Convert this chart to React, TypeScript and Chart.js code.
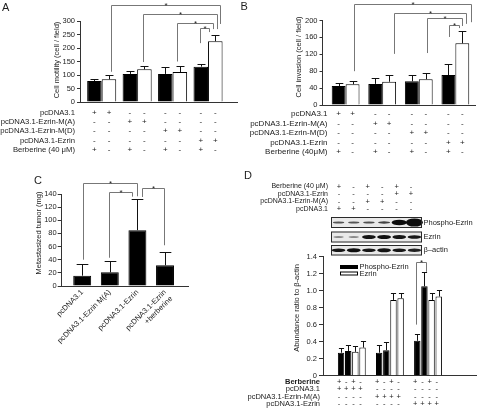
import React, { useEffect, useRef } from 'react';
import { Chart, registerables } from 'chart.js';

Chart.register(...registerables);

const FONT = '"Liberation Sans", Arial, Helvetica, sans-serif';
const INK = '#1c1c1c';
const AXIS = '#333333';
const BRACKET = '#777777';

// ---------------- Panel A : cell motility ----------------
const A_GROUPS = [0, 1, 2, 3];
const A_WITH_BERB = [78, 104, 104, 131];
const A_WITH_BERB_ERR = [8, 10, 24, 9];
const A_NO_BERB = [84, 121, 111, 225];
const A_NO_BERB_ERR = [16, 12, 22, 25];
const A_ROW_LABELS = ['pcDNA3.1', 'pcDNA3.1-Ezrin-M(A)', 'pcDNA3.1-Ezrin-M(D)', 'pcDNA3.1-Ezrin', 'Berberine (40 μM)'];
const A_ROW_SIGNS = ['++------', '--++----', '----++--', '------++', '+-+-+-+-'];
const A_BRACKETS = [
  { a: [0, 1], b: [3, 1], top: 359, aEnd: 112, bEnd: 289 },
  { a: [1, 1], b: [3, 1], top: 326, aEnd: 148, bEnd: 270 },
  { a: [2, 1], b: [3, 1], top: 293, aEnd: 150, bEnd: 270 },
  { a: [3, 0], b: [3, 1], top: 274, aEnd: 218, bEnd: 259 },
];

// ---------------- Panel B : cell invasion ----------------
const B_GROUPS = [0, 1, 2, 3];
const B_WITH_BERB = [45, 50, 56, 71];
const B_WITH_BERB_ERR = [6, 15, 14, 26];
const B_NO_BERB = [49, 55, 61, 146];
const B_NO_BERB_ERR = [7, 16, 14, 28];
const B_ROW_LABELS = ['pcDNA3.1', 'pcDNA3.1-Ezrin-M(A)', 'pcDNA3.1-Ezrin-M(D)', 'pcDNA3.1-Ezrin', 'Berberine (40μM)'];
const B_ROW_SIGNS = ['++------', '--++----', '----++--', '------++', '+-+-+-+-'];
const B_BRACKETS = [
  { a: [0, 1], b: [3, 1], top: 239, aEnd: 80, bEnd: 196 },
  { a: [1, 1], b: [3, 1], top: 218, aEnd: 121, bEnd: 192 },
  { a: [2, 1], b: [3, 1], top: 206, aEnd: 123, bEnd: 187 },
  { a: [3, 0], b: [3, 1], top: 189, aEnd: 161, bEnd: 182 },
];

// ---------------- Panel C : metastasized tumor ----------------
const C_GROUPS = [0, 1, 2, 3];
const C_LABELS: (string | string[])[] = ['pcDNA3.1', 'pcDNA3.1-Ezrin M(A)', 'pcDNA3.1-Ezrin', ['pcDNA3.1-Ezrin', '+berberine']];
const C_VALUES = [15.7, 20.8, 85, 31.5];
const C_ERR = [18.5, 17.8, 47, 21];
const C_BRACKETS = [
  { a: [0, 0], b: [2, 0], top: 157, aEnd: 40, bEnd: 136.5 },
  { a: [1, 0], b: [2, 0], top: 143.5, aEnd: 43, bEnd: 136 },
  { a: [2, 0], b: [3, 0], top: 148.5, aEnd: 135.5, bEnd: 62 },
];

// ---------------- Panel D : western blot quantification ----------------
const D_GROUPS = [0, 1, 2];
const D_PHOSPHO_BERB = [0.27, 0.27, 0.41];
const D_PHOSPHO_BERB_ERR = [0.06, 0.09, 0.08];
const D_PHOSPHO_NO = [0.29, 0.3, 1.05];
const D_PHOSPHO_NO_ERR = [0.07, 0.09, 0.17];
const D_EZRIN_BERB = [0.28, 0.89, 0.89];
const D_EZRIN_BERB_ERR = [0.07, 0.08, 0.08];
const D_EZRIN_NO = [0.33, 0.91, 0.93];
const D_EZRIN_NO_ERR = [0.08, 0.06, 0.08];
const D_LEGEND = ['Phospho-Ezrin', 'Ezrin'];
const D_ROW_LABELS = ['Berberine', 'pcDNA3.1', 'pcDNA3.1-Ezrin-M(A)', 'pcDNA3.1-Ezrin'];
const D_ROW_SIGNS = ['+-+-+-+-+-+-', '++++--------', '----++++----', '--------++++'];
const D_BRACKETS = [{ a: [2, 0], b: [2, 1], top: 1.33, aEnd: 0.6, bEnd: 1.22 }];
const D_TOP_LABELS = ['Berberine (40 μM)', 'pcDNA3.1-Ezrin', 'pcDNA3.1-Ezrin-M(A)', 'pcDNA3.1'];
const D_TOP_SIGNS = ['+-+-+-', '----++', '--++--', '++----'];
const BLOT_NAMES = ['Phospho-Ezrin', 'Ezrin', 'β–actin'];
const BLOT_PHOSPHO = [0.33, 0.32, 0.34, 0.4, 0.8, 1.0];
const BLOT_EZRIN = [0.22, 0.22, 0.62, 0.64, 0.62, 0.6];
const BLOT_ACTIN = [0.6, 0.64, 0.6, 0.62, 0.6, 0.56];

type Bracket = { a: number[]; b: number[]; top: number; aEnd: number; bEnd: number };
type Table = {
  labels: string[]; signs: string[]; ys: number[]; right: number;
  font: number; signFont: number; signDx: number; bold?: number[];
};
type Deco = {
  letter: string; letterX: number; letterY: number;
  yTitle: string; yTitleX: number; yTitleY: number;
  errors: number[][]; capRatio: number;
  brackets: Bracket[]; bracketDx: number[][];
  table?: Table;
  extra?: (ctx: CanvasRenderingContext2D, chart: any) => void;
};

function decoPlugin(cfg: Deco) {
  return {
    id: 'panelDeco',
    afterDraw(chart: any) {
      const ctx: CanvasRenderingContext2D = chart.ctx;
      const ys = chart.scales.y;
      const nDs = chart.data.datasets.length;
      ctx.save();

      // error bars
      ctx.strokeStyle = '#111';
      ctx.lineWidth = 1;
      cfg.errors.forEach((errs, d) => {
        const meta = chart.getDatasetMeta(d);
        const vals = chart.data.datasets[d].data;
        meta.data.forEach((bar: any, i: number) => {
          const v = vals[i].y;
          const top = Math.round(ys.getPixelForValue(v + errs[i])) + 0.5;
          const x = Math.round(bar.x) + 0.5;
          const half = (bar.width * cfg.capRatio) / 2;
          ctx.beginPath();
          ctx.moveTo(x, bar.y);
          ctx.lineTo(x, top);
          ctx.moveTo(x - half, top);
          ctx.lineTo(x + half, top);
          ctx.stroke();
        });
      });

      // significance brackets
      cfg.brackets.forEach((br, k) => {
        const [dxa, dxb] = cfg.bracketDx[k];
        const ba: any = chart.getDatasetMeta(br.a[1]).data[br.a[0]];
        const bb: any = chart.getDatasetMeta(br.b[1]).data[br.b[0]];
        const xa = Math.round(ba.x + dxa) + 0.5;
        const xb = Math.round(bb.x + dxb) + 0.5;
        const yt = Math.round(ys.getPixelForValue(br.top)) + 0.5;
        ctx.strokeStyle = BRACKET;
        ctx.beginPath();
        ctx.moveTo(xa, ys.getPixelForValue(br.aEnd));
        ctx.lineTo(xa, yt);
        ctx.lineTo(xb, yt);
        ctx.lineTo(xb, ys.getPixelForValue(br.bEnd));
        ctx.stroke();
        ctx.fillStyle = INK;
        ctx.font = `8px ${FONT}`;
        ctx.textAlign = 'center';
        ctx.textBaseline = 'alphabetic';
        ctx.fillText('*', (xa + xb) / 2, yt + 2.5);
      });

      // +/- table
      if (cfg.table) {
        const t = cfg.table;
        t.labels.forEach((lab, r) => {
          ctx.fillStyle = INK;
          ctx.textBaseline = 'middle';
          ctx.textAlign = 'right';
          ctx.font = `${t.bold && t.bold.includes(r) ? 'bold ' : ''}${t.font}px ${FONT}`;
          ctx.fillText(lab, t.right, t.ys[r]);
          ctx.textAlign = 'center';
          ctx.font = `${t.signFont}px ${FONT}`;
          const s = t.signs[r];
          for (let c = 0; c < s.length; c++) {
            const g = Math.floor(c / nDs);
            const d = c % nDs;
            const bar: any = chart.getDatasetMeta(d).data[g];
            ctx.fillText(s[c], bar.x + t.signDx, t.ys[r]);
          }
        });
      }

      // y title
      ctx.fillStyle = INK;
      ctx.font = `7.5px ${FONT}`;
      ctx.textAlign = 'center';
      ctx.textBaseline = 'middle';
      ctx.save();
      ctx.translate(cfg.yTitleX, cfg.yTitleY);
      ctx.rotate(-Math.PI / 2);
      ctx.fillText(cfg.yTitle, 0, 0);
      ctx.restore();

      // panel letter
      ctx.font = `11px ${FONT}`;
      ctx.textAlign = 'left';
      ctx.textBaseline = 'alphabetic';
      ctx.fillText(cfg.letter, cfg.letterX, cfg.letterY);

      if (cfg.extra) cfg.extra(ctx, chart);
      ctx.restore();
    },
  };
}

type DS = { label: string; values: number[]; fill: string };
type Spec = {
  groups: number[]; datasets: DS[];
  xMin: number; xMax: number; catPct: number; barPct: number;
  yMax: number; yStep: number; yFmt?: (v: number) => string;
  pad: { left: number; right: number; top: number; bottom: number };
  yAxisW: number; xAxisH: number; tickLen: number; tickPad: number;
  xLabels?: (string | string[])[];
  deco: Deco;
};

function buildChart(canvas: HTMLCanvasElement, spec: Spec) {
  const xTicks: any = spec.xLabels
    ? {
        display: true,
        autoSkip: false,
        minRotation: 45,
        maxRotation: 45,
        padding: 2,
        color: INK,
        font: { family: FONT, size: 7.5 },
        callback: (v: number) => spec.xLabels![Math.round(v)] ?? '',
      }
    : { display: false };
  return new Chart(canvas, {
    type: 'bar',
    data: {
      datasets: spec.datasets.map((d) => ({
        label: d.label,
        data: spec.groups.map((g, i) => ({ x: g, y: d.values[i] })),
        backgroundColor: d.fill,
        borderColor: '#000',
        borderWidth: 1,
        categoryPercentage: spec.catPct,
        barPercentage: spec.barPct,
      })),
    } as any,
    options: {
      responsive: false,
      animation: false,
      events: [],
      layout: { padding: spec.pad },
      plugins: { legend: { display: false }, tooltip: { enabled: false } },
      scales: {
        x: {
          type: 'linear',
          min: spec.xMin,
          max: spec.xMax,
          offset: false,
          grid: { display: false, drawTicks: false },
          border: { display: true, color: AXIS, width: 1 },
          ticks: xTicks,
          afterBuildTicks: (s: any) => {
            s.ticks = spec.groups.map((v) => ({ value: v }));
          },
          afterFit: (s: any) => {
            s.height = spec.xAxisH;
          },
        },
        y: {
          min: 0,
          max: spec.yMax,
          ticks: {
            stepSize: spec.yStep,
            padding: spec.tickPad,
            color: INK,
            font: { family: FONT, size: 7.5 },
            callback: (v: number) => (spec.yFmt ? spec.yFmt(v) : String(v)),
          },
          grid: { drawOnChartArea: false, drawTicks: true, tickLength: spec.tickLen, color: AXIS },
          border: { display: true, color: AXIS, width: 1 },
          afterFit: (s: any) => {
            s.width = spec.yAxisW;
          },
        },
      },
    } as any,
    plugins: [decoPlugin(spec.deco)],
  });
}

function drawBlots(ctx: CanvasRenderingContext2D, chart: any) {
  const bx = 91;
  const bw = 91;
  const rows = [
    [52, 11],
    [66.5, 11],
    [80, 10.5],
  ];
  const blots = [BLOT_PHOSPHO, BLOT_EZRIN, BLOT_ACTIN];
  const lw = bw / 6;
  blots.forEach((lanes, k) => {
    const [by, bh] = rows[k];
    ctx.fillStyle = '#e9e9e9';
    ctx.fillRect(bx, by, bw, bh);
    lanes.forEach((v, i) => {
      const cx = bx + lw * (i + 0.5);
      const cy = by + bh / 2;
      const h = Math.min(1.2 + 7 * v * v, bh - 2.5);
      const w = 8.5 + 8.5 * v;
      ctx.save();
      ctx.filter = 'blur(0.6px)';
      ctx.fillStyle = `rgba(12,12,12,${Math.min(1, 0.35 + v)})`;
      ctx.beginPath();
      ctx.ellipse(cx, cy, w / 2, h / 2, 0, 0, Math.PI * 2);
      ctx.fill();
      ctx.restore();
    });
    ctx.strokeStyle = '#2a2a2a';
    ctx.lineWidth = 1;
    ctx.strokeRect(bx + 0.5, by + 0.5, bw - 1, bh - 1);
    ctx.fillStyle = INK;
    ctx.font = `7.5px ${FONT}`;
    ctx.textAlign = 'left';
    ctx.textBaseline = 'middle';
    ctx.fillText(BLOT_NAMES[k], bx + bw + 1.5, by + bh / 2);
  });

  // treatment table above the blots
  ctx.fillStyle = INK;
  ctx.textBaseline = 'middle';
  const ysTop = [21.5, 29, 36.5, 44];
  D_TOP_LABELS.forEach((lab, r) => {
    ctx.font = `7px ${FONT}`;
    ctx.textAlign = 'right';
    ctx.fillText(lab, 88, ysTop[r]);
    ctx.textAlign = 'center';
    ctx.font = `7.5px ${FONT}`;
    const s = D_TOP_SIGNS[r];
    for (let c = 0; c < s.length; c++) ctx.fillText(s[c], 99 + c * 14.4, ysTop[r]);
  });

  // legend inside plot area
  const ds = chart.data.datasets;
  const items = [
    { label: D_LEGEND[0], fill: ds[0].backgroundColor, y: 100 },
    { label: D_LEGEND[1], fill: ds[2].backgroundColor, y: 106.5 },
  ];
  items.forEach((it) => {
    ctx.fillStyle = it.fill;
    ctx.fillRect(100, it.y, 18, 4);
    ctx.strokeStyle = '#000';
    ctx.strokeRect(100.5, it.y + 0.5, 17, 3);
    ctx.fillStyle = INK;
    ctx.font = `7.5px ${FONT}`;
    ctx.textAlign = 'left';
    ctx.textBaseline = 'middle';
    ctx.fillText(it.label, 119.5, it.y + 2);
  });
}

export default function App() {
  const aRef = useRef<HTMLCanvasElement>(null);
  const bRef = useRef<HTMLCanvasElement>(null);
  const cRef = useRef<HTMLCanvasElement>(null);
  const dRef = useRef<HTMLCanvasElement>(null);

  useEffect(() => {
    const charts: Chart[] = [];

    charts.push(
      buildChart(aRef.current!, {
        groups: A_GROUPS,
        datasets: [
          { label: 'Berberine', values: A_WITH_BERB, fill: '#000' },
          { label: 'No berberine', values: A_NO_BERB, fill: '#fff' },
        ],
        xMin: -0.612, xMax: 3.817, catPct: 0.82, barPct: 1,
        yMax: 300, yStep: 50,
        pad: { left: 58, right: 3, top: 21, bottom: 78 },
        yAxisW: 22, xAxisH: 0, tickLen: 3, tickPad: 2,
        deco: {
          letter: 'A', letterX: 2, letterY: 10.5,
          yTitle: 'Cell motility (cell / field)', yTitleX: 57, yTitleY: 60,
          errors: [A_WITH_BERB_ERR, A_NO_BERB_ERR], capRatio: 0.55,
          brackets: A_BRACKETS,
          bracketDx: [[2, 5], [-1.5, 2], [-3, -2], [-1, -6]],
          table: {
            labels: A_ROW_LABELS, signs: A_ROW_SIGNS,
            ys: [113, 122, 131, 141, 150], right: 75,
            font: 7.7, signFont: 8, signDx: 0,
          },
        },
      })
    );

    charts.push(
      buildChart(bRef.current!, {
        groups: B_GROUPS,
        datasets: [
          { label: 'Berberine', values: B_WITH_BERB, fill: '#000' },
          { label: 'No berberine', values: B_NO_BERB, fill: '#fff' },
        ],
        xMin: -0.632, xMax: 3.537, catPct: 0.76, barPct: 1,
        yMax: 200, yStep: 40,
        pad: { left: 60.5, right: 2, top: 20.5, bottom: 75 },
        yAxisW: 22, xAxisH: 0, tickLen: 3, tickPad: 2,
        deco: {
          letter: 'B', letterX: 0.5, letterY: 9.5,
          yTitle: 'Cell invasion (cell / field)', yTitleX: 58.5, yTitleY: 57,
          errors: [B_WITH_BERB_ERR, B_NO_BERB_ERR], capRatio: 0.55,
          brackets: B_BRACKETS,
          bracketDx: [[1, 9], [5, 4], [1.5, 0], [1, -3]],
          table: {
            labels: B_ROW_LABELS, signs: B_ROW_SIGNS,
            ys: [114, 124, 133, 143, 152], right: 87.5,
            font: 8, signFont: 8, signDx: 0,
          },
        },
      })
    );

    charts.push(
      buildChart(cRef.current!, {
        groups: C_GROUPS,
        datasets: [{ label: 'Metastasized tumor', values: C_VALUES, fill: '#000' }],
        xMin: -0.743, xMax: 3.833, catPct: 0.65, barPct: 1,
        yMax: 140, yStep: 20,
        pad: { left: 39.7, right: 52, top: 24, bottom: 0 },
        yAxisW: 22, xAxisH: 124, tickLen: 4, tickPad: 1,
        xLabels: C_LABELS,
        deco: {
          letter: 'C', letterX: 34, letterY: 14,
          yTitle: 'Metastasized tumor (mg)', yTitleX: 39, yTitleY: 63,
          errors: [C_ERR], capRatio: 0.65,
          brackets: C_BRACKETS,
          bracketDx: [[1, 0], [-1, -5], [5, -1]],
        },
      })
    );

    charts.push(
      buildChart(dRef.current!, {
        groups: D_GROUPS,
        datasets: [
          { label: 'Phospho-Ezrin +Berberine', values: D_PHOSPHO_BERB, fill: '#000' },
          { label: 'Phospho-Ezrin', values: D_PHOSPHO_NO, fill: '#000' },
          { label: 'Ezrin +Berberine', values: D_EZRIN_BERB, fill: '#fff' },
          { label: 'Ezrin', values: D_EZRIN_NO, fill: '#fff' },
        ],
        xMin: -0.756, xMax: 3.286, catPct: 0.75, barPct: 0.9,
        yMax: 1.4, yStep: 0.2,
        yFmt: (v) => (Math.abs(v) < 1e-9 ? '0' : v.toFixed(1)),
        pad: { left: 59, right: 0, top: 91.5, bottom: 34.3 },
        yAxisW: 24, xAxisH: 0, tickLen: 4, tickPad: 2,
        deco: {
          letter: 'D', letterX: 4, letterY: 13.5,
          yTitle: 'Abundance ratio to β-actin', yTitleX: 57, yTitleY: 143,
          errors: [D_PHOSPHO_BERB_ERR, D_PHOSPHO_NO_ERR, D_EZRIN_BERB_ERR, D_EZRIN_NO_ERR],
          capRatio: 0.8,
          brackets: D_BRACKETS,
          bracketDx: [[-1, 1.5]],
          table: {
            labels: D_ROW_LABELS, signs: D_ROW_SIGNS,
            ys: [217, 223.5, 232, 239], right: 80,
            font: 7.5, signFont: 7.5, signDx: -2, bold: [0],
          },
          extra: drawBlots,
        },
      })
    );

    return () => charts.forEach((c) => c.destroy());
  }, []);

  const abs = (l: number, t: number, w: number, h: number): React.CSSProperties => ({
    position: 'absolute', left: l, top: t, width: w, height: h,
  });

  return (
    <div style={{ position: 'absolute', left: 0, top: 0, width: 477, height: 410, background: '#fff', overflow: 'hidden' }}>
      <canvas ref={aRef} width={240} height={180} style={abs(0, 0, 240, 180)} />
      <canvas ref={bRef} width={237} height={180} style={abs(240, 0, 237, 180)} />
      <canvas ref={cRef} width={240} height={240} style={abs(0, 170, 240, 240)} />
      <canvas ref={dRef} width={237} height={245} style={abs(240, 165, 237, 245)} />
    </div>
  );
}
